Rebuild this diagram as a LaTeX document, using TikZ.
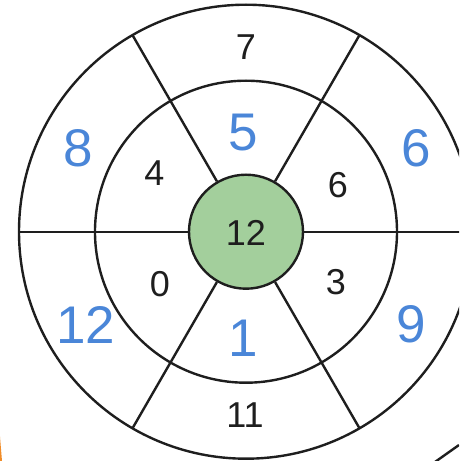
\documentclass[tikz,border=0pt]{standalone}
\usepackage{fontspec}
\setmainfont{Liberation Sans}
\definecolor{hubgreen}{RGB}{163,207,156}
\definecolor{numblue}{RGB}{74,134,216}
\definecolor{inkline}{RGB}{30,30,30}
\definecolor{shardorange}{RGB}{240,140,40}
\begin{document}
\begin{tikzpicture}[x=1pt,y=1pt,
    ring/.style={line width=2.4pt,draw=inkline},
    small/.style={inner sep=0pt,text=inkline,font=\fontsize{36}{36}\selectfont},
    big/.style={inner sep=0pt,text=numblue,font=\fontsize{53}{53}\selectfont}]
  \clip (-246,-229.3) rectangle (213,231.7);

  % rings
  \draw[ring] (0,0) circle [radius=227];
  \draw[ring] (0,0) circle [radius=151];
  \node[ring,circle,fill=hubgreen,minimum size=114pt,inner sep=0pt] (hub) at (0,0) {};

  % spokes
  \draw[ring] (hub.0)   -- (0:240);
  \draw[ring] (hub.60)  -- (60:227);
  \draw[ring] (hub.120) -- (120:227);
  \draw[ring] (hub.180) -- (180:227);
  \draw[ring] (hub.240) -- (240:227);
  \draw[ring] (hub.300) -- (300:227);

  % inner numbers
  \node[small] (hubnum) at (0,-0.8) {12};
  \node[small] (n4)  at (-91.5,58.7) {4};
  \node[small] (n6)  at (92,46.7)   {6};
  \node[small] (n0)  at (-86,-52.6) {0};
  \node[small] (n3)  at (90,-50)    {3};
  \node[small] (n7)  at (0,185)     {7};
  \node[small] (n11) at (-1,-183.8) {11};

  % blue numbers
  \node[big] (b5)  at (-3,99)        {5};
  \node[big] (b1)  at (-3,-107)      {1};
  \node[big] (b8)  at (-168,83.7)    {8};
  \node[big] (b6)  at (170,83.7)     {6};
  \node[big] (b12) at (-160.5,-93.3) {12};
  \node[big] (b9)  at (165,-92.6)    {9};

  % cut-off bits at the page edge
  \draw[ring] (188,-231) -- (213,-213.3);
  \fill[shardorange] (-246,-205) -- (-245.2,-215) -- (-244,-229.3) -- (-246,-229.3) -- cycle;
\end{tikzpicture}
\end{document}
